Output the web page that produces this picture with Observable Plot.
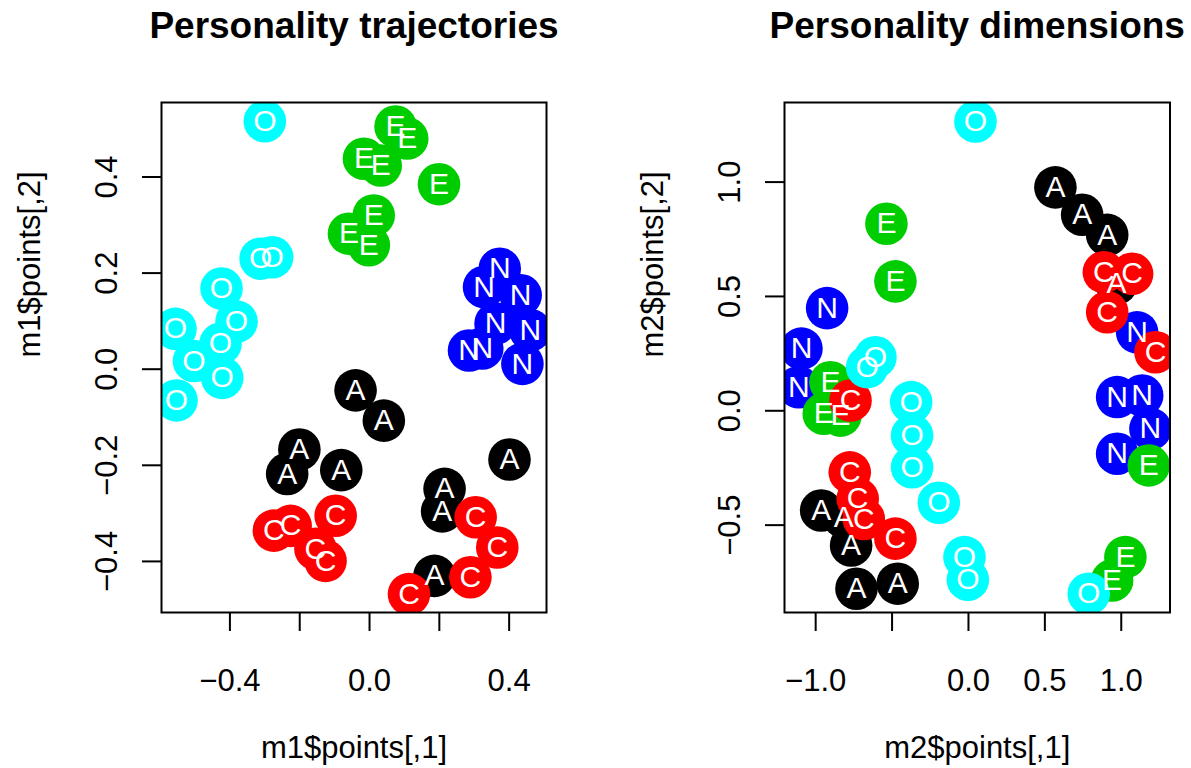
<!DOCTYPE html>
<html><head><meta charset="utf-8">
<script src="https://cdn.jsdelivr.net/npm/d3@7"></script>
<script src="https://cdn.jsdelivr.net/npm/@observablehq/plot@0.6"></script>
<style>
body{margin:0;background:#fff;}
#wrap{position:relative;width:1191px;height:768px;overflow:hidden;background:#fff;}
#wrap svg{position:absolute;top:0;}
</style></head><body><div id="wrap"></div>
<script>
const FONT = "'Liberation Sans', Arial, Helvetica, sans-serif";
// drawing order of the categories (later ones on top)
const categories = ["A", "N", "E", "C", "O"];
const catColors = ["#000000", "#0000FF", "#00CD00", "#FF0000", "#00FFFF"];

// ---- Panel 1: Personality trajectories (m1$points) ----
const m1_A_x = [-0.040, 0.041, -0.201, -0.236, -0.081, 0.401, 0.215, 0.208, 0.186];
const m1_A_y = [-0.044, -0.107, -0.167, -0.218, -0.210, -0.188, -0.249, -0.296, -0.430];
const m1_N_x = [0.373, 0.328, 0.433, 0.361, 0.461, 0.285, 0.323, 0.438];
const m1_N_y = [0.209, 0.171, 0.154, 0.095, 0.081, 0.039, 0.043, 0.011];
const m1_E_x = [0.0745, 0.108, -0.016, 0.032, 0.199, 0.012, -0.059, -0.002];
const m1_E_y = [0.505, 0.480, 0.438, 0.424, 0.385, 0.320, 0.282, 0.258];
const m1_C_x = [-0.274, -0.226, -0.097, -0.155, -0.126, 0.304, 0.366, 0.289, 0.113];
const m1_C_y = [-0.336, -0.326, -0.305, -0.374, -0.399, -0.308, -0.371, -0.433, -0.468];
const m1_O_x = [-0.300, -0.312, -0.279, -0.424, -0.381, -0.556, -0.427, -0.503, -0.422, -0.553];
const m1_O_y = [0.516, 0.230, 0.233, 0.168, 0.099, 0.084, 0.053, 0.017, -0.018, -0.065];

// ---- Panel 2: Personality dimensions (m2$points) ----
const m2_A_x = [0.569, 0.744, 0.908, 0.969, -0.964, -0.816, -0.768, -0.733, -0.463];
const m2_A_y = [0.977, 0.857, 0.769, 0.556, -0.436, -0.465, -0.589, -0.778, -0.756];
const m2_N_x = [-0.925, -1.093, -1.111, 1.104, 0.973, 1.137, 1.191, 0.973];
const m2_N_y = [0.449, 0.272, 0.103, 0.343, 0.060, 0.067, -0.079, -0.188];
const m2_E_x = [-0.537, -0.478, -0.903, -0.947, -0.838, 1.180, 1.027, 0.940];
const m2_E_y = [0.818, 0.566, 0.125, -0.013, -0.021, -0.239, -0.640, -0.742];
const m2_C_x = [0.886, 1.071, 0.908, 1.224, -0.772, -0.777, -0.725, -0.685, -0.478];
const m2_C_y = [0.606, 0.599, 0.431, 0.256, 0.045, -0.269, -0.385, -0.473, -0.559];
const m2_O_x = [0.046, -0.609, -0.663, -0.375, -0.369, -0.369, -0.194, -0.026, -0.004, 0.787];
const m2_O_y = [1.265, 0.234, 0.191, 0.038, -0.108, -0.247, -0.402, -0.640, -0.739, -0.800];

// ---- Axes ----
const m1_xTicks = [-0.4, -0.2, 0, 0.2, 0.4];
const m1_xTickLabels = ["−0.4", "", "0.0", "", "0.4"];
const m1_yTicks = [-0.4, -0.2, 0, 0.2, 0.4];
const m1_yTickLabels = ["−0.4", "−0.2", "0.0", "0.2", "0.4"];
const m2_xTicks = [-1, -0.5, 0, 0.5, 1];
const m2_xTickLabels = ["−1.0", "", "0.0", "0.5", "1.0"];
const m2_yTicks = [-0.5, 0, 0.5, 1];
const m2_yTickLabels = ["−0.5", "0.0", "0.5", "1.0"];

const titles = ["Personality trajectories", "Personality dimensions"];
const xLabels = ["m1$points[,1]", "m2$points[,1]"];
const yLabels = ["m1$points[,2]", "m2$points[,2]"];

function table(xs, ys) {
  return categories.flatMap(c => xs[c].map((x, i) => ({cat: c, x, y: ys[c][i]})));
}
const m1 = table({A: m1_A_x, N: m1_N_x, E: m1_E_x, C: m1_C_x, O: m1_O_x},
                 {A: m1_A_y, N: m1_N_y, E: m1_E_y, C: m1_C_y, O: m1_O_y});
const m2 = table({A: m2_A_x, N: m2_N_x, E: m2_E_x, C: m2_C_x, O: m2_O_x},
                 {A: m2_A_y, N: m2_N_y, E: m2_E_y, C: m2_C_y, O: m2_O_y});

const MT = 102, MB = 156, H = 768, TICK = 19;
function panel(o) {
  const fx = d => o.xLab[o.xTicks.indexOf(d)];
  const fy = d => o.yLab[o.yTicks.indexOf(d)];
  const fw = o.width - o.ml - o.mr, fh = H - MT - MB;
  return Plot.plot({
    width: o.width, height: H,
    marginLeft: o.ml, marginRight: o.mr, marginTop: MT, marginBottom: MB,
    x: {domain: o.xDomain},
    y: {domain: o.yDomain},
    color: {domain: categories, range: catColors},
    style: {fontFamily: FONT, background: "white", overflow: "visible", color: "black"},
    marks: [
      Plot.dot(o.data, {x: "x", y: "y", r: 21.3, fill: "cat", stroke: null, clip: true}),
      Plot.text(o.data, {x: "x", y: "y", text: "cat", fill: "white", fontSize: 30, clip: true}),
      Plot.frame({stroke: "black", strokeWidth: 2}),
      // tick marks (outside the frame)
      Plot.tickX(o.xTicks, {x: d => d, insetTop: fh, insetBottom: -TICK, stroke: "black", strokeWidth: 2}),
      Plot.tickY(o.yTicks, {y: d => d, insetRight: fw, insetLeft: -TICK, stroke: "black", strokeWidth: 2}),
      Plot.axisX({ticks: o.xTicks, tickFormat: fx, tickSize: 0, tickPadding: TICK + 37,
                  fontSize: 31, label: null}),
      Plot.axisY({ticks: o.yTicks, tickFormat: fy, tickSize: 0, tickPadding: TICK + 26, rotate: -90,
                  textAnchor: "middle", lineAnchor: "bottom", fontSize: 31, label: null}),
      Plot.text([o.title], {text: d => d, frameAnchor: "top", dy: 37 - MT, lineAnchor: "bottom",
                  fontSize: 37, fontWeight: "bold"}),
      Plot.text([o.xLabel], {text: d => d, frameAnchor: "bottom", dy: 757 - (H - MB), lineAnchor: "bottom",
                  fontSize: 31}),
      Plot.text([o.yLabel], {text: d => d, frameAnchor: "left", dx: -121.5, rotate: -90, lineAnchor: "bottom",
                  fontSize: 31})
    ]
  });
}

const wrap = document.getElementById("wrap");
const p1 = panel({data: m1, width: 596, ml: 161, mr: 50,
  xDomain: [-0.596, 0.507], yDomain: [-0.5063, 0.555],
  xTicks: m1_xTicks, xLab: m1_xTickLabels, yTicks: m1_yTicks, yLab: m1_yTickLabels,
  title: titles[0], xLabel: xLabels[0], yLabel: yLabels[0]});
p1.style.left = "0px";
wrap.appendChild(p1);
const p2 = panel({data: m2, width: 595, ml: 188, mr: 21.5,
  xDomain: [-1.204, 1.319], yDomain: [-0.882, 1.348],
  xTicks: m2_xTicks, xLab: m2_xTickLabels, yTicks: m2_yTicks, yLab: m2_yTickLabels,
  title: titles[1], xLabel: xLabels[1], yLabel: yLabels[1]});
p2.style.left = "596px";
wrap.appendChild(p2);
</script>
</body></html>
